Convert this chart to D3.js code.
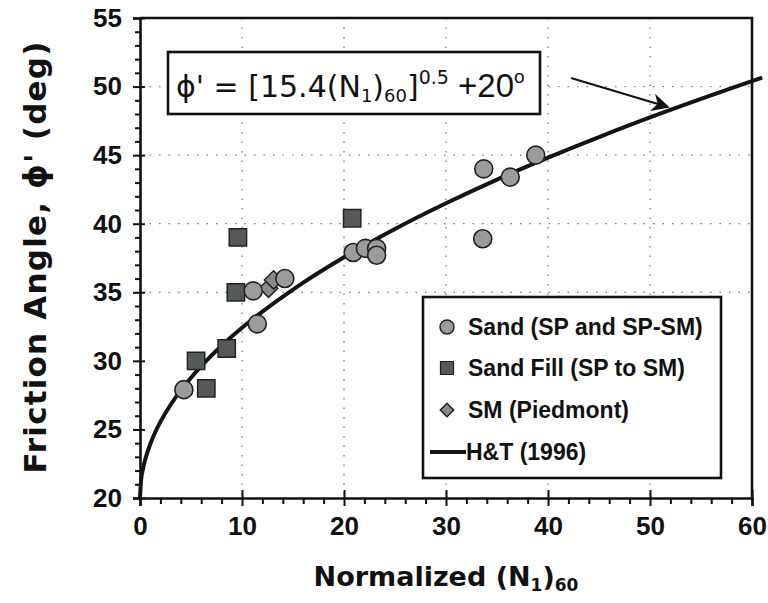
<!DOCTYPE html>
<html>
<head>
<meta charset="utf-8">
<script src="https://cdn.jsdelivr.net/npm/d3@7"></script>
<style>
  html, body { margin: 0; padding: 0; background: #fff; }
  svg { display: block; }
</style>
</head>
<body>
<svg id="chart" width="768" height="603"></svg>
<script>
// ---- data ----
const sandX = [4.3, 11.1, 11.5, 14.2, 20.9, 22.1, 23.2, 23.2, 33.6, 33.7, 36.3, 38.8];
const sandY = [27.9, 35.1, 32.7, 36.0, 37.9, 38.2, 38.2, 37.7, 38.9, 44.0, 43.4, 45.0];
const fillX = [5.5, 6.5, 8.5, 9.4, 9.6, 20.8];
const fillY = [30.0, 28.0, 30.9, 35.0, 39.0, 40.4];
const smX = [12.6, 13.1];
const smY = [35.3, 35.9];
// H&T (1996) curve
const htX = [0, 0.1, 0.3, 0.6, 1, 1.5, 2, 3, 4, 5, 6, 8, 10, 12, 15, 20, 25, 30, 35, 40, 45, 50, 55, 60, 61];
const htY = [20, 21.24, 22.15, 23.04, 23.92, 24.81, 25.55, 26.80, 27.85, 28.77, 29.61, 31.10, 32.41, 33.59, 35.20, 37.55, 39.62, 41.49, 43.22, 44.82, 46.32, 47.75, 49.10, 50.40, 50.65];
const xTicks = [0, 10, 20, 30, 40, 50, 60];
const yTicks = [20, 25, 30, 35, 40, 45, 50, 55];
const yGrid = [35, 40, 45, 50];
const xGrid = [10, 20, 30, 40, 50];
const legendLabels = ["Sand (SP and SP-SM)", "Sand Fill (SP to SM)", "SM (Piedmont)", "H&T (1996)"];

const svg = d3.select("#chart");
const x = d3.scaleLinear().domain([0, 60]).range([140, 752]);
const y = d3.scaleLinear().domain([20, 55]).range([498, 18]);

const comic = "'DejaVu Sans', 'Noto Sans', sans-serif";
const arialB = "'Liberation Sans', Arial, sans-serif";

// grid
const grid = svg.append("g").attr("stroke", "#777").attr("stroke-width", 1.3)
  .attr("stroke-dasharray", "1.5,8");
grid.selectAll("line.gx").data(xGrid).join("line")
  .attr("x1", d => x(d)).attr("x2", d => x(d)).attr("y1", y(55)).attr("y2", y(20));
grid.selectAll("line.gy").data(yGrid).join("line")
  .attr("x1", x(0)).attr("x2", x(60)).attr("y1", d => y(d)).attr("y2", d => y(d));

// axes
const xMinor = d3.range(0, 61, 2).filter(v => v % 10 !== 0);
const yMinor = d3.range(20, 56, 1).filter(v => v % 5 !== 0);

const gx = svg.append("g").attr("transform", `translate(0,${y(20)})`);
gx.call(d3.axisBottom(x).tickValues(xMinor).tickSize(6).tickFormat(""));
gx.call(g => g.selectAll(".tick line").attr("stroke-width", 2));
const gx2 = svg.append("g").attr("transform", `translate(0,${y(20)})`);
gx2.call(d3.axisBottom(x).tickValues(xTicks).tickSize(8).tickPadding(11).tickFormat(d3.format("d")));
gx2.call(g => g.select(".domain").attr("stroke-width", 2.6));
gx2.selectAll(".tick line").attr("y1", -8).attr("stroke-width", 2);
gx2.selectAll(".tick text").attr("font-family", arialB).attr("font-weight", "bold")
  .attr("font-size", 26).attr("fill", "#111");

const gy = svg.append("g").attr("transform", `translate(${x(0)},0)`);
gy.call(d3.axisLeft(y).tickValues(yMinor).tickSize(5).tickFormat(""));
gy.call(g => g.selectAll(".tick line").attr("stroke-width", 2));
const gy2 = svg.append("g").attr("transform", `translate(${x(0)},0)`);
gy2.call(d3.axisLeft(y).tickValues(yTicks).tickSize(7).tickPadding(11).tickFormat(d3.format("d")));
gy2.call(g => g.select(".domain").attr("stroke-width", 2.6));
gy2.selectAll(".tick line").attr("x1", 5).attr("stroke-width", 2);
gy2.selectAll(".tick text").attr("font-family", arialB).attr("font-weight", "bold")
  .attr("font-size", 26).attr("fill", "#111");
svg.selectAll(".domain").attr("stroke", "#111");
svg.selectAll(".tick line").attr("stroke", "#111");

// top and right frame
svg.append("path")
  .attr("d", `M${x(0)},${y(55)}H${x(60)}V${y(20)}`)
  .attr("fill", "none").attr("stroke", "#111").attr("stroke-width", 2.6);

// legend box
const lg = svg.append("g");
lg.append("rect").attr("x", 423).attr("y", 297).attr("width", 298).attr("height", 181)
  .attr("fill", "#fff").attr("stroke", "#111").attr("stroke-width", 2.6);

// curve
const line = d3.line().x((d, i) => x(htX[i])).y((d, i) => y(htY[i])).curve(d3.curveMonotoneX);
svg.append("path").datum(htX).attr("d", line)
  .attr("fill", "none").attr("stroke", "#141414").attr("stroke-width", 4);

// markers
const sym = (type, size) => d3.symbol().type(type).size(size)();
svg.append("g").selectAll("path").data(fillX).join("path")
  .attr("transform", (d, i) => `translate(${x(d)},${y(fillY[i])})`)
  .attr("d", sym(d3.symbolSquare, 300))
  .attr("fill", "#555a58").attr("stroke", "#222").attr("stroke-width", 1.5);
svg.append("g").selectAll("path").data(smX).join("path")
  .attr("transform", (d, i) => `translate(${x(d)},${y(smY[i])}) rotate(45)`)
  .attr("d", sym(d3.symbolSquare, 170))
  .attr("fill", "#8a8a8a").attr("stroke", "#222").attr("stroke-width", 1.5);
svg.append("g").selectAll("circle").data(sandX).join("circle")
  .attr("cx", d => x(d)).attr("cy", (d, i) => y(sandY[i])).attr("r", 9)
  .attr("fill", "#9b9b9b").attr("stroke", "#222").attr("stroke-width", 1.6);

// legend entries
const ly = [327, 368, 410, 452];
lg.append("circle").attr("cx", 447).attr("cy", ly[0]).attr("r", 7)
  .attr("fill", "#9b9b9b").attr("stroke", "#222").attr("stroke-width", 1.5);
lg.append("path").attr("transform", `translate(447,${ly[1]})`).attr("d", sym(d3.symbolSquare, 170))
  .attr("fill", "#555a58").attr("stroke", "#222").attr("stroke-width", 1.2);
lg.append("path").attr("transform", `translate(447,${ly[2]}) rotate(45)`).attr("d", sym(d3.symbolSquare, 90))
  .attr("fill", "#8a8a8a").attr("stroke", "#222").attr("stroke-width", 1.5);
lg.append("line").attr("x1", 430).attr("x2", 466).attr("y1", ly[3]).attr("y2", ly[3])
  .attr("stroke", "#141414").attr("stroke-width", 4);
lg.selectAll("text").data(legendLabels).join("text")
  .attr("x", (d, i) => i === 3 ? 466 : 468).attr("y", (d, i) => ly[i]).attr("dy", "0.36em")
  .attr("font-family", arialB).attr("font-weight", "bold").attr("font-size", 23).attr("fill", "#111")
  .text(d => d);

// formula box
svg.append("rect").attr("x", 168).attr("y", 52).attr("width", 372).attr("height", 62)
  .attr("fill", "#fff").attr("stroke", "#111").attr("stroke-width", 2.6);
const ft = svg.append("text").attr("x", 176).attr("y", 97)
  .attr("font-family", comic).attr("font-size", 30).attr("fill", "#111");
ft.append("tspan").text("ϕ' = [15.4(N");
ft.append("tspan").attr("font-size", 18).attr("dy", 5).text("1");
ft.append("tspan").attr("dy", -5).text(")");
ft.append("tspan").attr("font-size", 18).attr("dy", 5).text("60");
ft.append("tspan").attr("dy", -5).text("]");
ft.append("tspan").attr("font-size", 19).attr("dy", -13).text("0.5");
ft.append("tspan").attr("dy", 13).attr("font-family", arialB).attr("font-size", 33).text(" +20");
ft.append("tspan").attr("font-family", arialB).attr("font-size", 19).attr("dy", -14).text("o");

// arrow
svg.append("defs").append("marker").attr("id", "ah").attr("viewBox", "0 0 10 10")
  .attr("refX", 9).attr("refY", 5).attr("markerWidth", 18).attr("markerHeight", 18)
  .attr("orient", "auto").attr("markerUnits", "userSpaceOnUse")
  .append("path").attr("d", "M0,0L10,5L0,10L3,5Z").attr("fill", "#111");
svg.append("line").attr("x1", 571).attr("y1", 78).attr("x2", 668).attr("y2", 107)
  .attr("stroke", "#111").attr("stroke-width", 2).attr("marker-end", "url(#ah)");

// axis titles
const xt = svg.append("text").attr("x", 446).attr("y", 586).attr("text-anchor", "middle")
  .attr("font-family", comic).attr("font-size", 27).attr("font-weight", "bold").attr("fill", "#111");
xt.append("tspan").text("Normalized (N");
xt.append("tspan").attr("font-size", 17).attr("dy", 5).text("1");
xt.append("tspan").attr("dy", -5).text(")");
xt.append("tspan").attr("font-size", 17).attr("dy", 5).text("60");

svg.append("text").attr("transform", "translate(46,257) rotate(-90)").attr("text-anchor", "middle")
  .attr("font-family", comic).attr("font-size", 31).attr("font-weight", "bold").attr("fill", "#111")
  .attr("letter-spacing", 1.2)
  .text("Friction Angle, ϕ' (deg)");
</script>
</body>
</html>
